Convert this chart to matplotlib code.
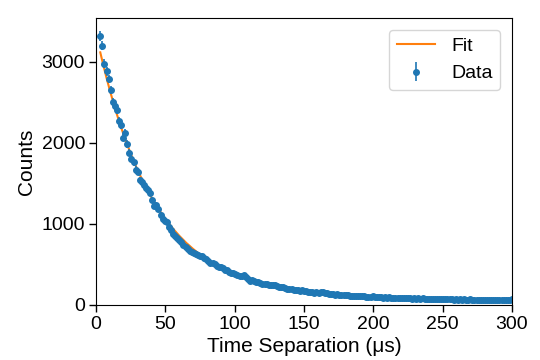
import numpy as np
import matplotlib.pyplot as plt

plt.rcParams['font.family'] = ['Liberation Sans', 'DejaVu Sans']
plt.rcParams['font.size'] = 14

# time bins (us), 1.5 us wide, 3 .. 300
time_us = np.arange(3.0, 300.01, 1.5)

# counts per bin
counts = [
    3320, 3200, 2975, 2880, 2790, 2650, 2500, 2450, 2400, 2265,
    2215, 2065, 2125, 1985, 1880, 1800, 1760, 1670, 1640, 1545,
    1520, 1480, 1445, 1420, 1385, 1300, 1215, 1235, 1180, 1110,
    1065, 1040, 1025, 960, 930, 870, 850, 820, 795, 780,
    745, 720, 690, 665, 655, 640, 630, 615, 600, 598,
    578, 570, 540, 520, 512, 505, 482, 470, 462, 450,
    430, 425, 405, 398, 392, 383, 368, 362, 352, 365,
    340, 318, 300, 305, 290, 282, 285, 270, 262, 258,
    262, 250, 245, 240, 250, 236, 225, 222, 215, 212,
    200, 196, 198, 185, 182, 186, 176, 180, 172, 170,
    162, 165, 155, 150, 156, 150, 162, 158, 145, 142,
    138, 130, 136, 128, 131, 122, 126, 118, 121, 120,
    112, 116, 110, 113, 106, 110, 104, 108, 101, 102,
    98, 104, 96, 99, 93, 97, 91, 95, 90, 93,
    87, 90, 85, 89, 84, 87, 82, 86, 80, 84,
    79, 83, 78, 81, 76, 80, 77, 74, 78, 73,
    76, 71, 74, 70, 73, 69, 72, 68, 71, 69,
    66, 70, 65, 68, 64, 67, 66, 63, 67, 64,
    62, 66, 61, 64, 60, 63, 59, 62, 61, 58,
    62, 57, 60, 56, 61, 58, 55, 59, 68,
]
counts = np.array(counts, dtype=float)
errors = np.sqrt(counts)

# fit curve
fit_t = [3, 5, 7.5, 10, 12.5, 15, 17.5, 20, 25, 30, 35, 40, 45, 50, 55, 60,
         65, 70, 75, 80, 90, 100, 110, 120, 135, 150, 165, 180, 200, 220,
         240, 260, 280, 300]
fit_counts = [3116, 2972, 2802, 2642, 2492, 2351, 2217, 2092, 1863, 1660,
              1483, 1324, 1184, 1060, 950, 853, 766, 690, 621, 562, 460,
              380, 317, 266, 210, 169, 140, 118.5, 98.5, 84.6, 75.3, 68.4,
              63.4, 59.7]

fig = plt.figure(figsize=(5.4, 3.6), dpi=100)
ax = fig.add_axes([0.178, 0.153, 0.770, 0.797])

ax.plot(fit_t, fit_counts, color='C1', lw=1.5, label='Fit')
ax.errorbar(time_us, counts, yerr=errors, fmt='o', color='C0',
            markersize=4, elinewidth=1.2, label='Data')

ax.set_xlim(0, 300)
ax.set_ylim(0, 3540)
ax.set_xticks([0, 50, 100, 150, 200, 250, 300])
ax.set_yticks([0, 1000, 2000, 3000])
ax.tick_params(direction='out', length=5, width=1, labelsize=14, pad=3)
ax.set_xlabel('Time Separation (\u03bcs)', fontsize=15, labelpad=3)
ax.set_ylabel('Counts', fontsize=15, labelpad=4)

ax.legend(loc='upper right', fontsize=14, borderaxespad=0.6)

fig.savefig('out.png', dpi=100)
